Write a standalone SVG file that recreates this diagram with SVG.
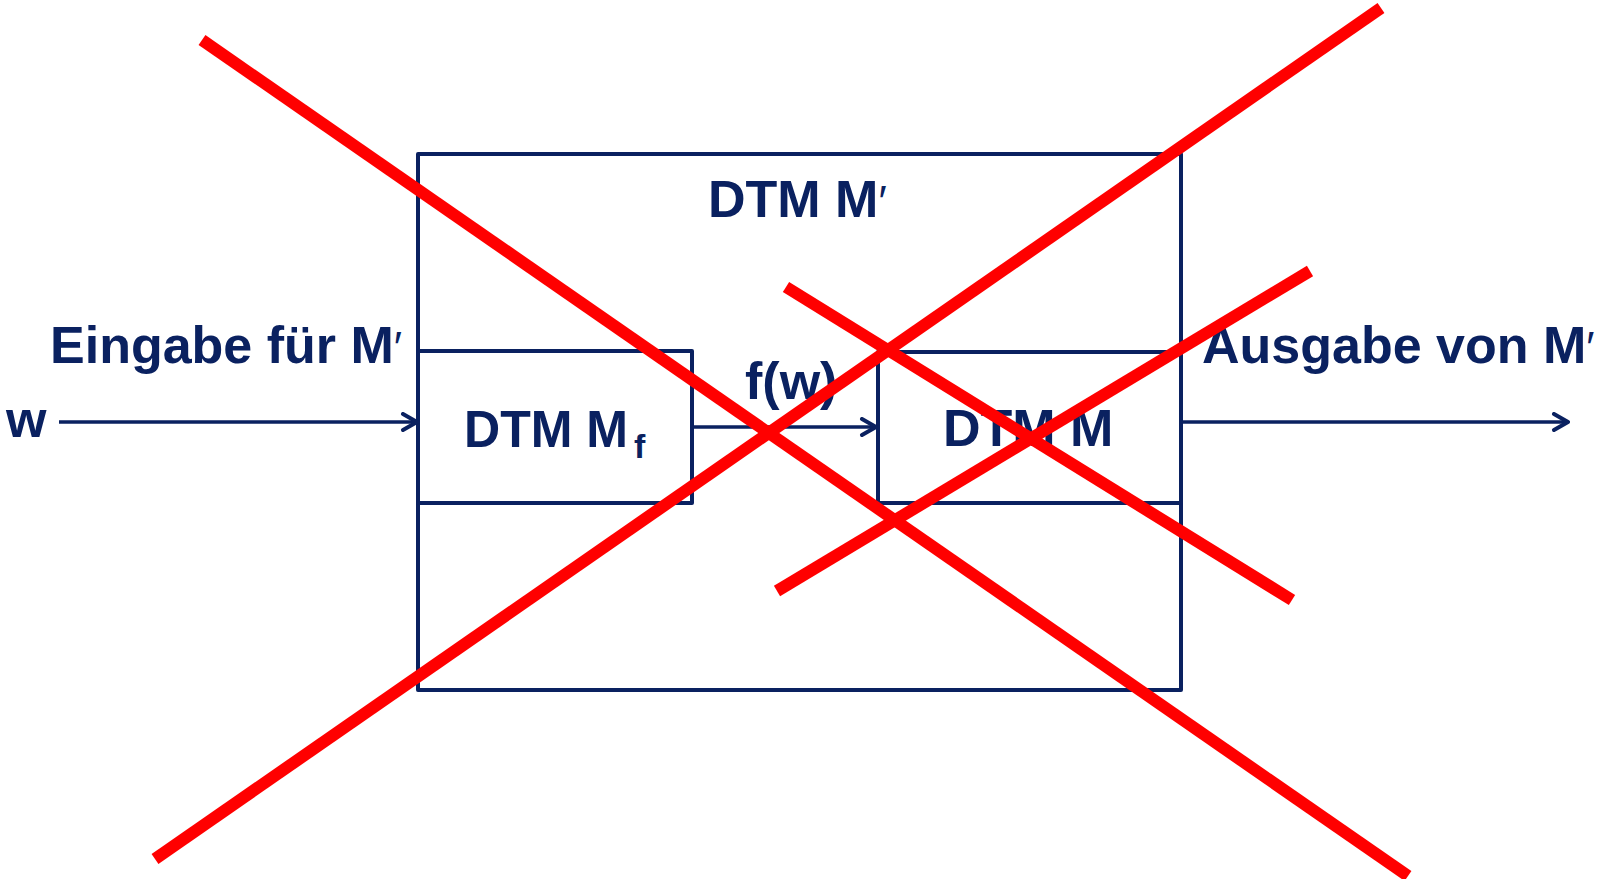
<svg xmlns="http://www.w3.org/2000/svg" width="1602" height="879" viewBox="0 0 1602 879">
<defs>
<style>
.box{fill:none;stroke:#0a2160;stroke-width:4;stroke-linejoin:round}
.conn{fill:none;stroke:#0a2160;stroke-width:3.5}
.head{fill:none;stroke:#0a2160;stroke-width:4;stroke-linecap:round;stroke-linejoin:round}
.t{font-family:"Liberation Sans",Arial,sans-serif;font-weight:bold;font-size:52px;fill:#0a2160}
.sub{font-size:34px}
.pr{font-weight:normal;font-size:44px}
.x{stroke:#ff0000;stroke-width:12;fill:none}
</style>
<marker id="arr" viewBox="0 0 20 20" refX="18" refY="10" markerWidth="20" markerHeight="20" markerUnits="userSpaceOnUse" orient="auto">
<path class="head" d="M4,2 L18,10 L4,18"/>
</marker>
</defs>
<rect width="1602" height="879" fill="#ffffff"/>
<g id="outer">
<rect class="box" x="418" y="154" width="763" height="536"/>
<text class="t" x="708" y="217">DTM M<tspan class="pr">′</tspan></text>
</g>
<g id="mf">
<rect class="box" x="418" y="351" width="274" height="152"/>
<text class="t" x="464" y="447" textLength="164" lengthAdjust="spacingAndGlyphs">DTM M</text>
<text class="t sub" x="634" y="458">f</text>
</g>
<g id="m">
<rect class="box" x="878" y="352" width="303" height="151"/>
<text class="t" x="943" y="446">DTM M</text>
</g>
<g id="labels">
<text class="t" x="50" y="363">Eingabe für M<tspan class="pr">′</tspan></text>
<text class="t" x="1202" y="363">Ausgabe von M<tspan class="pr">′</tspan></text>
<text class="t" x="6" y="437">w</text>
<text class="t" x="745" y="399">f(w)</text>
</g>
<g id="connectors">
<line class="conn" x1="59" y1="422" x2="417" y2="422" marker-end="url(#arr)"/>
<line class="conn" x1="692" y1="427" x2="876" y2="427" marker-end="url(#arr)"/>
<line class="conn" x1="1181" y1="422" x2="1568" y2="422" marker-end="url(#arr)"/>
</g>
<g id="crosses">
<line class="x" x1="202" y1="40" x2="1408" y2="876"/>
<line class="x" x1="155" y1="859" x2="1381" y2="8"/>
<line class="x" x1="786" y1="287" x2="1292" y2="600"/>
<line class="x" x1="777" y1="591" x2="1310" y2="271"/>
</g>
</svg>
